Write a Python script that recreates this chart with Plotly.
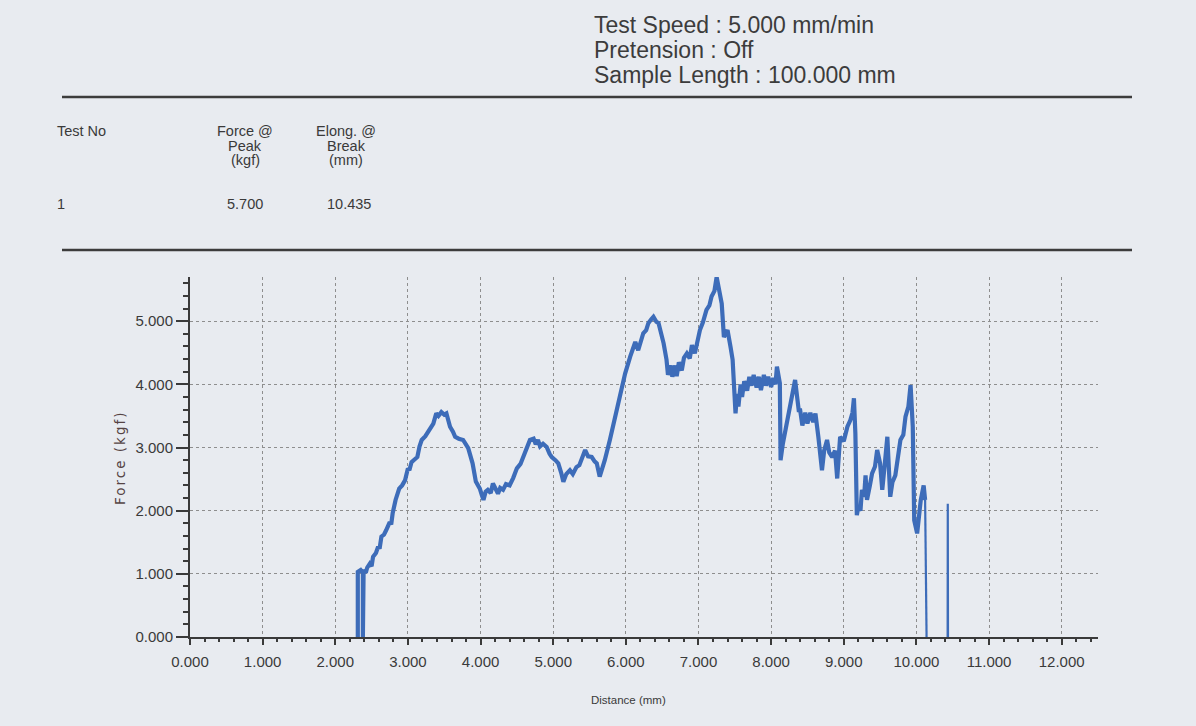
import plotly.graph_objects as go

# ---- Tensile test record: force vs. crosshead distance ----
# None marks the gap where the broken specimen sits on the zero line.
distance_mm = [
    2.31, 2.31, 2.35, 2.38, 2.38, 2.39, 2.42, 2.44, 2.475, 2.50, 2.52, 2.56,
    2.59, 2.61, 2.635, 2.67, 2.70, 2.75, 2.77, 2.79, 2.83, 2.88, 2.92, 2.96,
    3.00, 3.02, 3.05, 3.13, 3.16, 3.19, 3.24, 3.28, 3.35, 3.39, 3.42, 3.46,
    3.50, 3.53, 3.58, 3.62, 3.65, 3.70, 3.76, 3.83, 3.89, 3.935, 3.99, 4.02,
    4.04, 4.07, 4.10, 4.14, 4.17, 4.21, 4.24, 4.27, 4.31, 4.35, 4.40, 4.45,
    4.50, 4.55, 4.59, 4.64, 4.68, 4.73, 4.76, 4.79, 4.82, 4.86, 4.91, 4.95,
    4.98, 5.03, 5.07, 5.11, 5.14, 5.18, 5.23, 5.27, 5.32, 5.36, 5.39, 5.44,
    5.48, 5.53, 5.57, 5.60, 5.64, 5.71, 5.78, 5.85, 5.92, 5.99, 6.06, 6.10,
    6.13, 6.17, 6.24, 6.28, 6.31, 6.35, 6.38, 6.42, 6.45, 6.52, 6.56, 6.58,
    6.62, 6.64, 6.68, 6.70, 6.73, 6.77, 6.80, 6.84, 6.88, 6.91, 6.95, 7.02,
    7.06, 7.11, 7.15, 7.18, 7.22, 7.25, 7.29, 7.32, 7.35, 7.40, 7.44, 7.47,
    7.51, 7.53, 7.55, 7.58, 7.60, 7.63, 7.67, 7.70, 7.73, 7.76, 7.80, 7.83,
    7.86, 7.90, 7.93, 7.96, 8.00, 8.03, 8.06, 8.08, 8.12, 8.13, 8.16, 8.19,
    8.23, 8.26, 8.30, 8.33, 8.38, 8.40, 8.43, 8.47, 8.50, 8.54, 8.58, 8.61,
    8.65, 8.70, 8.73, 8.77, 8.80, 8.84, 8.88, 8.91, 8.95, 9.00, 9.05, 9.09,
    9.12, 9.14, 9.16, 9.18, 9.20, 9.23, 9.25, 9.28, 9.30, 9.32, 9.36, 9.39,
    9.43, 9.46, 9.50, 9.53, 9.57, 9.60, 9.64, 9.67, 9.71, 9.75, 9.78, 9.82,
    9.85, 9.89, 9.92, 9.95, 9.97, 10.01, 10.04, 10.06, 10.10, 10.12,
    10.14, None, 10.43, 10.432, 10.435,
]
force_kgf = [
    0.00, 1.03, 1.06, 1.02, 0.00, 1.06, 1.02, 1.10, 1.16, 1.12, 1.27, 1.33,
    1.43, 1.40, 1.59, 1.62, 1.69, 1.82, 1.78, 1.96, 2.17, 2.35, 2.40, 2.48,
    2.67, 2.64, 2.77, 2.85, 3.02, 3.12, 3.18, 3.25, 3.38, 3.54, 3.50, 3.56,
    3.52, 3.54, 3.33, 3.25, 3.17, 3.14, 3.12, 2.99, 2.75, 2.46, 2.35, 2.24,
    2.17, 2.30, 2.33, 2.28, 2.43, 2.34, 2.27, 2.36, 2.33, 2.42, 2.40, 2.52,
    2.67, 2.74, 2.85, 2.98, 3.12, 3.14, 3.05, 3.12, 3.02, 3.06, 3.01, 2.90,
    2.85, 2.80, 2.75, 2.60, 2.46, 2.58, 2.64, 2.58, 2.69, 2.72, 2.83, 2.96,
    2.86, 2.85, 2.78, 2.75, 2.54, 2.80, 3.12, 3.49, 3.80, 4.17, 4.44, 4.58,
    4.67, 4.54, 4.81, 4.86, 4.97, 5.03, 5.07, 4.99, 4.97, 4.65, 4.39, 4.15,
    4.30, 4.12, 4.30, 4.13, 4.35, 4.22, 4.42, 4.49, 4.41, 4.62, 4.49, 4.86,
    4.98, 5.18, 5.25, 5.39, 5.48, 5.70, 5.45, 5.28, 4.75, 4.86, 4.60, 4.39,
    3.54, 3.85, 3.65, 4.00, 3.80, 4.05, 3.90, 4.12, 3.98, 4.15, 3.95, 4.12,
    3.91, 4.15, 3.98, 4.12, 3.96, 4.10, 4.00, 4.28, 4.02, 2.80, 3.05, 3.22,
    3.45, 3.70, 3.85, 4.07, 3.59, 3.59, 3.35, 3.55, 3.38, 3.55, 3.40, 3.54,
    3.17, 2.64, 2.95, 3.12, 2.92, 2.85, 2.95, 2.51, 3.17, 3.10, 3.33, 3.43,
    3.55, 3.78, 3.22, 1.93, 2.06, 2.00, 2.33, 2.22, 2.56, 2.17, 2.40, 2.59,
    2.70, 2.96, 2.75, 2.33, 2.80, 3.17, 2.22, 2.45, 2.56, 2.85, 3.12, 3.20,
    3.49, 3.65, 3.99, 3.33, 1.85, 1.64, 2.05, 2.17, 2.40, 2.17,
    0.00, None, 0.00, 2.11, 0.00,
]

x_ticks = [0, 1, 2, 3, 4, 5, 6, 7, 8, 9, 10, 11, 12]
y_ticks = [0, 1, 2, 3, 4, 5]
X_RANGE = [0, 12.5]
Y_RANGE = [0, 5.7]
BREAK_AT = 10.12  # samples from here on are drawn as the post-break trace

header_lines = ["Test Speed : 5.000 mm/min", "Pretension : Off",
                "Sample Length : 100.000 mm"]
table_cols = [["Test No"], ["Force @", "Peak", "(kgf)"],
              ["Elong. @", "Break", "(mm)"]]
table_row = ["1", "5.700", "10.435"]

# ---- page geometry ----
W, H = 1196, 726
ML, MR, MT, MB = 190, 98, 277, 89
PAPER = "#e8ebf0"
INK = "#3a3a3a"
BLUE = "#3d6cb9"
SANS = "Liberation Sans, Arial, sans-serif"


def fx(px):
    return (px - ML) / (W - ML - MR)


def fy(py):
    return (H - MB - py) / (H - MT - MB)


split = next(i for i, d in enumerate(distance_mm) if d is not None and d >= BREAK_AT)

fig = go.Figure()
fig.add_trace(go.Scatter(
    x=distance_mm[:split + 1], y=force_kgf[:split + 1], mode="lines",
    line=dict(color=BLUE, width=4.2), hoverinfo="skip"))
fig.add_trace(go.Scatter(
    x=distance_mm[split:], y=force_kgf[split:], mode="lines",
    line=dict(color=BLUE, width=2.2), connectgaps=False, hoverinfo="skip"))

annotations = []
# header block
for i, t in enumerate(header_lines):
    annotations.append(dict(
        text=t, x=fx(592), y=fy(25 + 25 * i), xanchor="left", yanchor="middle",
        font=dict(family=SANS, size=23, color="#3c3c3c")))
# results table
col_x = [55, 245, 346]
for ci, lines in enumerate(table_cols):
    for li, t in enumerate(lines):
        annotations.append(dict(
            text=t, x=fx(col_x[ci]), y=fy(131 + 14.5 * li),
            xanchor="left" if ci == 0 else "center", yanchor="middle",
            font=dict(family=SANS, size=14.5, color=INK)))
row_x = [55, 245, 349]
for ci, t in enumerate(table_row):
    annotations.append(dict(
        text=t, x=fx(row_x[ci]), y=fy(204),
        xanchor="left" if ci == 0 else "center", yanchor="middle",
        font=dict(family=SANS, size=14.5, color=INK)))
# axis titles
annotations.append(dict(
    text="Distance (mm)", x=fx(628), y=fy(700), xanchor="center", yanchor="middle",
    font=dict(family=SANS, size=11.5, color=INK)))
annotations.append(dict(
    text='<span style="letter-spacing:2px">Force (kgf)</span>',
    x=fx(120), y=fy(458), xanchor="center", yanchor="middle", textangle=-90,
    font=dict(family="DejaVu Sans, Verdana, sans-serif", size=13.5, color="#554444")))

for a in annotations:
    a.update(xref="paper", yref="paper", showarrow=False)

shapes = [
    dict(type="line", xref="paper", yref="paper", x0=fx(62), x1=fx(1132),
         y0=fy(97), y1=fy(97), line=dict(color="#3c3c3c", width=2.5)),
    dict(type="line", xref="paper", yref="paper", x0=fx(62), x1=fx(1132),
         y0=fy(250), y1=fy(250), line=dict(color="#3c3c3c", width=2.5)),
]

axis_common = dict(
    showline=True, linecolor="#3a3a3a", linewidth=2,
    ticks="outside", tickcolor="#3a3a3a", tickwidth=1.5,
    tickformat=".3f", zeroline=False,
    showgrid=True, gridcolor="#8e8e8e", gridwidth=1, griddash="dot",
    tickfont=dict(family=SANS, size=15, color=INK),
)

fig.update_layout(
    width=W, height=H,
    margin=dict(l=ML, r=MR, t=MT, b=MB),
    paper_bgcolor=PAPER, plot_bgcolor=PAPER,
    showlegend=False, hovermode=False,
    xaxis=dict(range=X_RANGE, tickvals=x_ticks, ticklen=6, ticklabelstandoff=4,
               minor=dict(dtick=0.2, tick0=0, ticks="outside", ticklen=3,
                          tickcolor="#3a3a3a", showgrid=False),
               **axis_common),
    yaxis=dict(range=Y_RANGE, tickvals=y_ticks, ticklen=12,
               minor=dict(dtick=0.2, tick0=0, ticks="outside", ticklen=5,
                          tickcolor="#3a3a3a", showgrid=False),
               **axis_common),
    annotations=annotations,
    shapes=shapes,
)

fig.write_html("out.html")
